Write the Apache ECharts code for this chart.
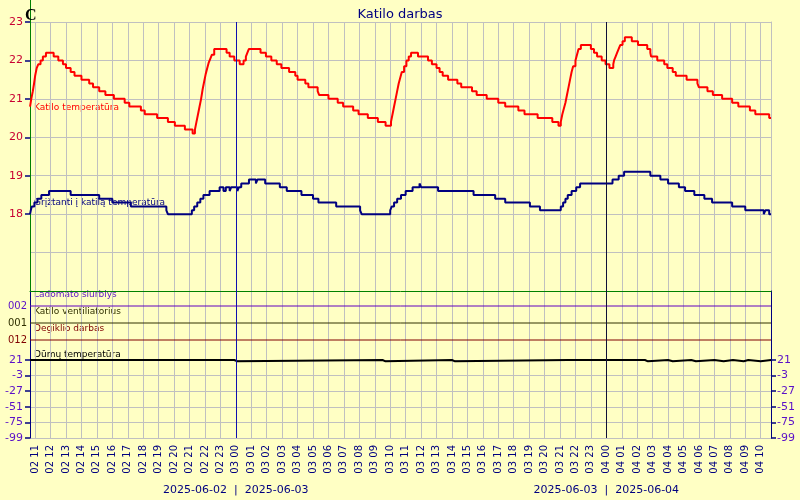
<!DOCTYPE html>
<html><head><meta charset="utf-8">
<script src="https://cdn.jsdelivr.net/npm/echarts@6/dist/echarts.min.js"></script>
<style>html,body{margin:0;padding:0;background:#ffffc4}#c{width:800px;height:500px}</style>
</head><body><div id="c"></div>
<script>
// ---------- data ----------
// x values are hours counted from 2025-06-02 00:00
const startHour = 10 + 40 / 60;
const endHour = 58 + 40 / 60;
const hourTicks = [11,12,13,14,15,16,17,18,19,20,21,22,23,24,25,26,27,28,29,30,31,32,33,34,35,36,37,38,39,40,41,42,43,44,45,46,47,48,49,50,51,52,53,54,55,56,57,58];
const hourLabels = ['02 11','02 12','02 13','02 14','02 15','02 16','02 17','02 18','02 19','02 20','02 21','02 22','02 23',
  '03 00','03 01','03 02','03 03','03 04','03 05','03 06','03 07','03 08','03 09','03 10','03 11','03 12','03 13','03 14','03 15','03 16','03 17','03 18','03 19','03 20','03 21','03 22','03 23',
  '04 00','04 01','04 02','04 03','04 04','04 05','04 06','04 07','04 08','04 09','04 10'];
const dayLines = [24, 48];
const dayLineColors = ['#1010b0', '#101038'];
const dateLabels = ['2025-06-02  |  2025-06-03', '2025-06-03  |  2025-06-04'];
const tempTicks = [18, 19, 20, 21, 22, 23];
const tempGridValues = [17, 18, 19, 20, 21, 22, 23];
const smokeTicks = [-99, -75, -51, -27, -3, 21];
const bandNames = ['Ladomato siurblys', 'Katilo ventiliatorius', 'Degiklio darbas'];
const bandCodes = ['002', '001', '012'];

const boilerTemp = [[10.67,20.8],[10.75,21.0],[10.85,21.2],[10.93,21.4],[11.0,21.6],[11.1,21.8],[11.2,21.9],[11.35,22.0],[11.5,22.1],[11.7,22.2],[12.2,22.1],[12.5,22.0],[12.8,21.9],[13.0,21.8],[13.3,21.7],[13.55,21.6],[14.0,21.5],[14.5,21.4],[14.75,21.3],[15.15,21.2],[15.55,21.1],[16.1,21.0],[16.8,20.9],[17.1,20.8],[17.85,20.7],[18.1,20.6],[18.9,20.5],[19.6,20.4],[20.05,20.3],[20.7,20.2],[21.2,20.1],[21.35,20.2],[21.45,20.4],[21.55,20.6],[21.65,20.8],[21.75,21.0],[21.85,21.25],[21.95,21.45],[22.05,21.65],[22.15,21.8],[22.25,21.95],[22.35,22.05],[22.45,22.15],[22.6,22.3],[23.4,22.2],[23.6,22.1],[23.9,22.0],[24.25,21.9],[24.5,22.0],[24.65,22.1],[24.75,22.2],[24.85,22.3],[25.6,22.2],[25.95,22.1],[26.3,22.0],[26.65,21.9],[26.95,21.8],[27.45,21.7],[27.85,21.6],[28.0,21.5],[28.5,21.4],[28.7,21.3],[29.3,21.2],[29.4,21.1],[30.0,21.0],[30.6,20.9],[30.95,20.8],[31.6,20.7],[31.95,20.6],[32.55,20.5],[33.2,20.4],[33.7,20.3],[34.05,20.4],[34.15,20.6],[34.25,20.8],[34.35,21.0],[34.45,21.2],[34.55,21.4],[34.65,21.55],[34.75,21.7],[34.9,21.85],[35.05,22.0],[35.2,22.1],[35.35,22.2],[35.8,22.1],[36.45,22.0],[36.7,21.9],[37.0,21.8],[37.2,21.7],[37.4,21.6],[37.75,21.5],[38.35,21.4],[38.6,21.3],[39.3,21.2],[39.6,21.1],[40.25,21.0],[41.0,20.9],[41.45,20.8],[42.3,20.7],[42.7,20.6],[43.55,20.5],[44.5,20.4],[44.9,20.3],[45.05,20.4],[45.15,20.6],[45.25,20.75],[45.35,20.9],[45.45,21.1],[45.55,21.3],[45.65,21.5],[45.75,21.7],[45.85,21.85],[46.0,22.0],[46.1,22.15],[46.2,22.3],[46.35,22.4],[47.0,22.3],[47.2,22.2],[47.4,22.1],[47.7,22.0],[47.95,21.9],[48.2,21.8],[48.45,21.9],[48.5,22.0],[48.6,22.1],[48.7,22.2],[48.8,22.3],[48.9,22.4],[49.05,22.5],[49.2,22.6],[49.65,22.5],[50.05,22.4],[50.65,22.3],[50.85,22.2],[50.9,22.1],[51.3,22.0],[51.75,21.9],[51.95,21.8],[52.3,21.7],[52.5,21.6],[53.2,21.5],[53.9,21.4],[54.0,21.3],[54.55,21.2],[54.9,21.1],[55.5,21.0],[56.15,20.9],[56.55,20.8],[57.3,20.7],[57.65,20.6],[58.55,20.5],[58.67,20.5]];

const returnTemp = [[10.67,18.0],[10.72,18.1],[10.78,18.2],[10.95,18.3],[11.15,18.4],[11.4,18.5],[11.9,18.6],[13.3,18.5],[15.15,18.4],[16.0,18.3],[17.2,18.2],[19.5,18.1],[19.6,18.0],[21.15,18.1],[21.3,18.2],[21.5,18.3],[21.7,18.4],[21.9,18.5],[22.3,18.6],[22.95,18.7],[23.2,18.6],[23.35,18.7],[23.6,18.6],[23.7,18.7],[24.1,18.6],[24.2,18.7],[24.35,18.8],[24.85,18.9],[25.3,18.8],[25.4,18.9],[25.9,18.8],[26.85,18.7],[27.3,18.6],[28.25,18.5],[29.0,18.4],[29.35,18.3],[30.5,18.2],[32.05,18.1],[32.15,18.0],[34.0,18.1],[34.1,18.2],[34.25,18.3],[34.45,18.4],[34.7,18.5],[35.0,18.6],[35.45,18.7],[35.9,18.8],[36.0,18.7],[37.1,18.6],[39.4,18.5],[40.8,18.4],[41.45,18.3],[43.05,18.2],[43.7,18.1],[45.05,18.2],[45.2,18.3],[45.35,18.4],[45.5,18.5],[45.75,18.6],[46.05,18.7],[46.3,18.8],[48.4,18.9],[48.8,19.0],[49.15,19.1],[50.85,19.0],[51.5,18.9],[52.0,18.8],[52.7,18.7],[53.1,18.6],[53.7,18.5],[54.35,18.4],[54.85,18.3],[56.15,18.2],[57.0,18.1],[58.2,18.0],[58.3,18.1],[58.55,18.0],[58.67,18.0]];

const smokeTemp = [[10.67,21],[23.9,21],[24.0,19],[24.1,21],[33.5,21],[33.6,19],[33.7,21],[38.0,21],[38.1,19],[38.2,21],[45.5,19],[45.6,21],[48.2,19],[48.3,21],[50.5,19],[50.7,21],[52.0,19],[52.3,21],[53.5,19],[53.8,21],[55.0,19],[55.6,21],[56.2,19],[56.9,21],[57.2,19],[58.0,21],[58.67,21]];

const pumpState = [[10.67,0],[58.67,0]];
const fanState = [[10.67,0],[58.67,0]];
const burnerState = [[10.67,0],[58.67,0]];

// ---------- styles ----------
const FONT = 'DejaVu Sans';
const GRAY = '#c0c0c0';
const NAVY = '#000080';
const PURPLE = '#5a10c8';
const bandColors = ['#6000c0', '#303000', '#800000'];

function gridBox(top, height) {
  return { left: 30, right: 29, top: top, height: height, containLabel: false, outerBoundsMode: 'none' };
}
function xAx(i, opts) {
  return Object.assign({
    type: 'value', gridIndex: i, min: startHour, max: endHour, position: 'bottom',
    axisLine: { show: false, onZero: false },
    axisTick: { show: false, customValues: hourTicks },
    axisLabel: { show: false },
    splitLine: { show: true, lineStyle: { color: GRAY, width: 1 } }
  }, opts || {});
}
function dayMark() {
  return {
    silent: true, symbol: ['none', 'none'], label: { show: false }, animation: false,
    emphasis: { disabled: true },
    data: dayLines.map((d, i) => ({ xAxis: d, lineStyle: { color: dayLineColors[i], width: 1, type: 'solid' } }))
  };
}
function bandY(i, k) {
  return [
    { type: 'value', gridIndex: i, position: 'left', min: 0, max: 1,
      axisLine: { show: true, onZero: false, lineStyle: { color: NAVY } },
      axisTick: { show: false },
      splitLine: { show: false },
      axisLabel: { show: true, customValues: [0], margin: 3, color: k === 0 ? PURPLE : bandColors[k],
        fontFamily: FONT, fontSize: 10, padding: [0, 0, 8, 0],
        formatter: () => bandCodes[k] } },
    { type: 'value', gridIndex: i, position: 'right', min: 0, max: 1,
      axisLine: { show: true, onZero: false, lineStyle: { color: NAVY } },
      axisTick: { show: false }, axisLabel: { show: false }, splitLine: { show: false } }
  ];
}

const option = {
  backgroundColor: '#ffffc4',
  animation: false,
  textStyle: { fontFamily: FONT },
  title: [
    { text: 'Katilo darbas', left: 'center', top: 3,
      textStyle: { color: NAVY, fontSize: 13, fontWeight: 'normal', fontFamily: FONT } },
    { text: 'C', left: 20, top: 3,
      textStyle: { color: '#000', fontSize: 16, fontWeight: 'bold', fontFamily: 'Liberation Serif' } }
  ],
  grid: [gridBox(0, 22), gridBox(22, 269), gridBox(291, 15), gridBox(306, 17), gridBox(323, 17), gridBox(340, 98)],
  xAxis: [
    xAx(0, { show: true, splitLine: { show: false } }),
    xAx(1, { axisLine: { show: true, onZero: false, lineStyle: { color: '#008000', width: 1 } } }),
    xAx(2),
    xAx(3),
    xAx(4, { offset: 98,
      axisLabel: { show: true, customValues: dayLines, margin: 47, color: NAVY, fontSize: 11, fontFamily: FONT,
        formatter: v => dateLabels[dayLines.indexOf(v)] } }),
    xAx(5, {
      axisLabel: { show: true, customValues: hourTicks, rotate: 90, margin: 7, color: NAVY, fontSize: 10, fontFamily: FONT,
        formatter: v => hourLabels[hourTicks.indexOf(v)] } })
  ],
  yAxis: [
    { type: 'value', gridIndex: 0, position: 'left', min: 0, max: 1,
      axisLine: { show: true, onZero: false, lineStyle: { color: '#008000' } },
      axisTick: { show: false }, axisLabel: { show: false }, splitLine: { show: false } },
    { type: 'value', gridIndex: 1, position: 'left', min: 16, max: 23,
      axisLine: { show: true, onZero: false, lineStyle: { color: '#008000' } },
      axisTick: { show: true, customValues: tempTicks, length: 5, lineStyle: { color: NAVY, width: 1.5 } },
      axisLabel: { show: true, customValues: tempTicks, margin: 7, color: '#c80032', fontSize: 11, fontFamily: FONT },
      splitLine: { show: false } },
    { type: 'value', gridIndex: 1, position: 'right', min: 16, max: 23,
      axisLine: { show: true, onZero: false, lineStyle: { color: GRAY } },
      axisTick: { show: false, customValues: tempGridValues }, axisLabel: { show: false },
      splitLine: { show: true, lineStyle: { color: GRAY, width: 1 } } },
    ...bandY(2, 0),
    ...bandY(3, 1),
    ...bandY(4, 2),
    { type: 'value', gridIndex: 5, position: 'left', min: -99, max: 51.77,
      axisLine: { show: true, onZero: false, lineStyle: { color: NAVY } },
      axisTick: { show: true, customValues: smokeTicks, length: 5, lineStyle: { color: NAVY, width: 1.5 } },
      axisLabel: { show: true, customValues: smokeTicks, margin: 7, color: PURPLE, fontSize: 11, fontFamily: FONT },
      splitLine: { show: true, lineStyle: { color: GRAY, width: 1 } } },
    { type: 'value', gridIndex: 5, position: 'right', min: -99, max: 51.77,
      axisLine: { show: true, onZero: false, lineStyle: { color: NAVY } },
      axisTick: { show: true, customValues: smokeTicks, length: 5, lineStyle: { color: NAVY, width: 1.5 } },
      axisLabel: { show: true, customValues: smokeTicks, margin: 6, color: PURPLE, fontSize: 11, fontFamily: FONT },
      splitLine: { show: false } }
  ],
  series: [
    { name: 'Katilo temperatūra', type: 'line', xAxisIndex: 1, yAxisIndex: 1, step: 'end', data: boilerTemp,
      showSymbol: false, lineStyle: { color: '#ff0000', width: 2 }, markLine: dayMark(), z: 3 },
    { name: 'Grįžtanti į katilą temperatūra', type: 'line', xAxisIndex: 1, yAxisIndex: 1, step: 'end', data: returnTemp,
      showSymbol: false, lineStyle: { color: NAVY, width: 2 }, z: 3 },
    { name: bandNames[0], type: 'line', xAxisIndex: 2, yAxisIndex: 3, step: 'end', data: pumpState, clip: false,
      showSymbol: false, lineStyle: { color: bandColors[0], width: 1 }, markLine: dayMark() },
    { name: bandNames[1], type: 'line', xAxisIndex: 3, yAxisIndex: 5, step: 'end', data: fanState, clip: false,
      showSymbol: false, lineStyle: { color: bandColors[1], width: 1 }, markLine: dayMark() },
    { name: bandNames[2], type: 'line', xAxisIndex: 4, yAxisIndex: 7, step: 'end', data: burnerState, clip: false,
      showSymbol: false, lineStyle: { color: bandColors[2], width: 1 }, markLine: dayMark() },
    { name: 'Dūmų temperatūra', type: 'line', xAxisIndex: 5, yAxisIndex: 9, step: 'end', data: smokeTemp, clip: false,
      showSymbol: false, lineStyle: { color: '#000', width: 2 }, markLine: dayMark(), z: 3 }
  ],
  graphic: [
    { type: 'text', x: 34, y: 108, silent: true, style: { text: 'Katilo temperatūra', fill: '#ff0000', font: '9px "DejaVu Sans"', verticalAlign: 'middle' } },
    { type: 'text', x: 34, y: 203, silent: true, style: { text: 'Grįžtanti į katilą temperatūra', fill: NAVY, font: '9px "DejaVu Sans"', verticalAlign: 'middle' } },
    { type: 'text', x: 34, y: 295, silent: true, style: { text: bandNames[0], fill: PURPLE, font: '9px "DejaVu Sans"', verticalAlign: 'middle' } },
    { type: 'text', x: 34, y: 312, silent: true, style: { text: bandNames[1], fill: bandColors[1], font: '9px "DejaVu Sans"', verticalAlign: 'middle' } },
    { type: 'text', x: 34, y: 329, silent: true, style: { text: bandNames[2], fill: bandColors[2], font: '9px "DejaVu Sans"', verticalAlign: 'middle' } },
    { type: 'text', x: 34, y: 355, silent: true, style: { text: 'Dūmų temperatūra', fill: '#000', font: '9px "DejaVu Sans"', verticalAlign: 'middle' } }
  ]
};
const chart = echarts.init(document.getElementById('c'), null, { renderer: 'canvas' });
chart.setOption(option);
</script>
</body></html>
